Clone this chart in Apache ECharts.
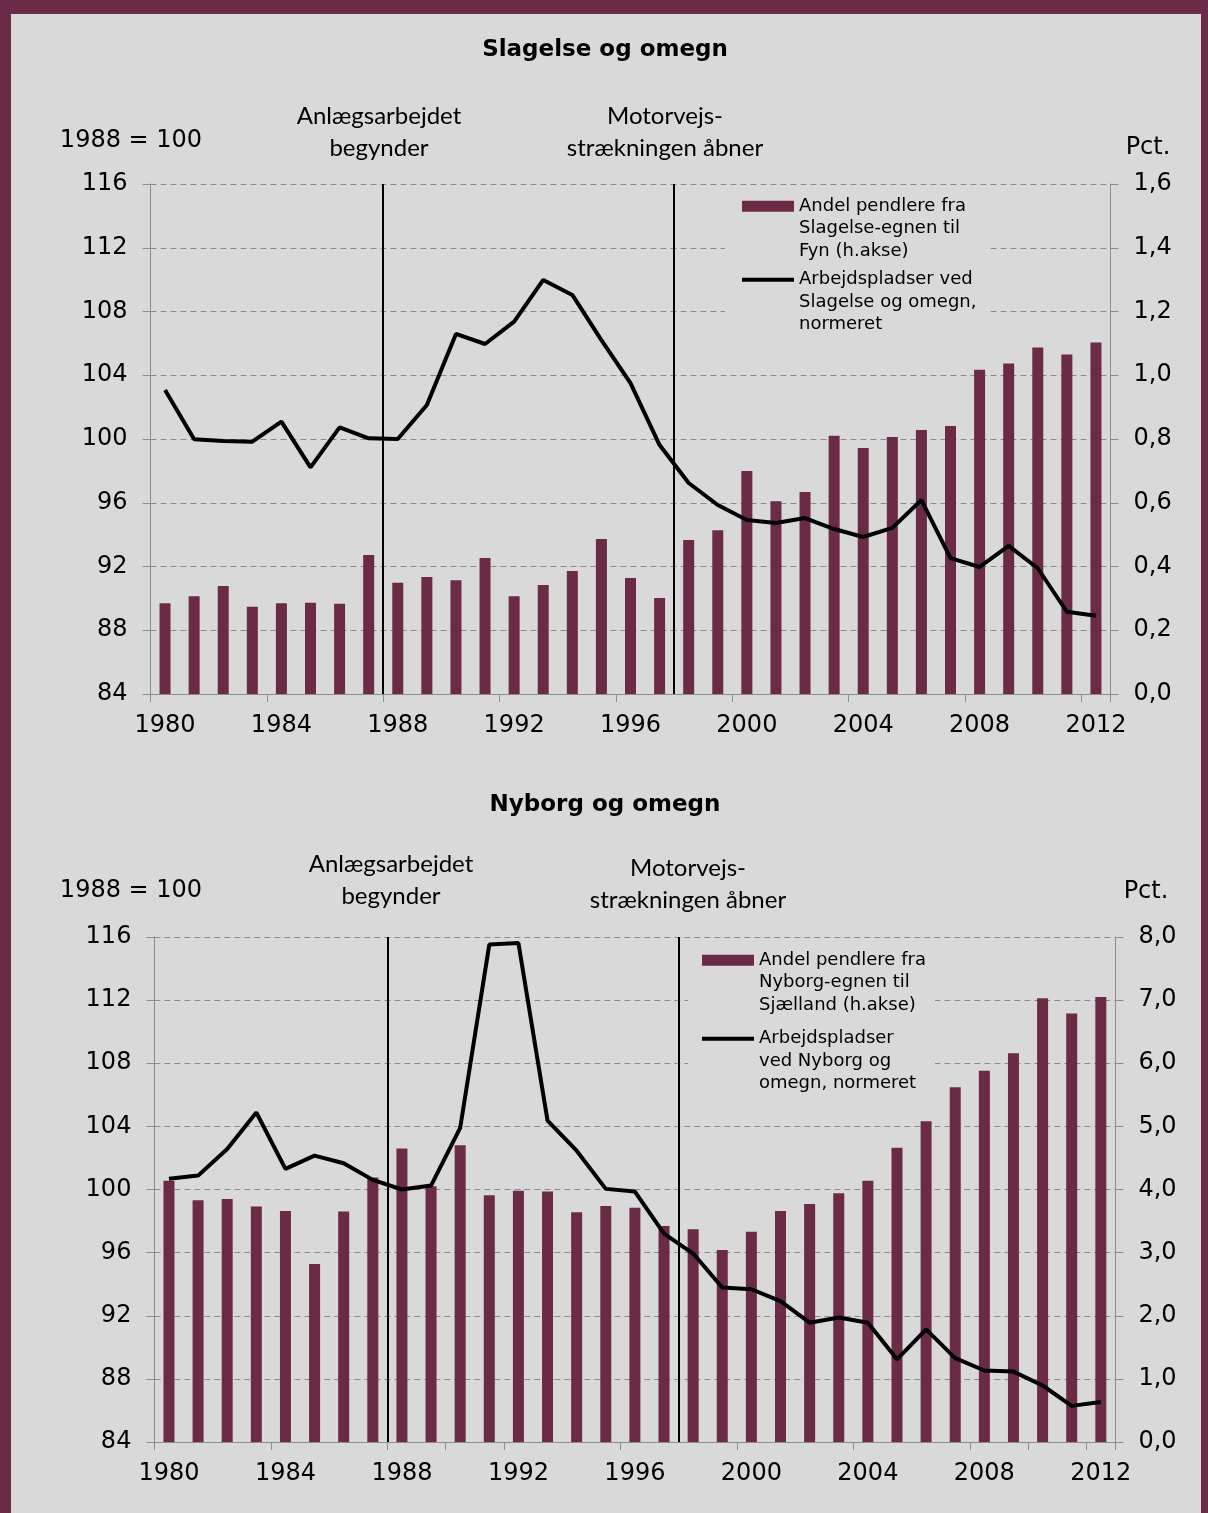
<!DOCTYPE html>
<html>
<head>
<meta charset="utf-8">
<script src="https://cdn.jsdelivr.net/npm/echarts@6/dist/echarts.min.js"></script>
<style>
  html, body { margin: 0; padding: 0; background: #d9d9d9; }
  #chart { position: absolute; left: 0; top: 0; width: 1208px; height: 1513px; }
  #frame {
    position: absolute; left: 0; top: 0; width: 1208px; height: 1513px;
    box-sizing: border-box; pointer-events: none;
    border-top: 14px solid #6b2b47; border-left: 11px solid #6b2b47; border-right: 7px solid #6b2b47;
  }
</style>
</head>
<body>
<div id="chart"></div>
<div id="frame"></div>
<script>
// data
var years = ['1980', '1981', '1982', '1983', '1984', '1985', '1986', '1987', '1988', '1989', '1990',
  '1991', '1992', '1993', '1994', '1995', '1996', '1997', '1998', '1999', '2000', '2001', '2002',
  '2003', '2004', '2005', '2006', '2007', '2008', '2009', '2010', '2011', '2012']
// pct. (right axis)
var slagelseShare = [0.285, 0.307, 0.339, 0.274, 0.285, 0.286, 0.283, 0.436, 0.349, 0.367, 0.357,
  0.427, 0.307, 0.342, 0.386, 0.486, 0.364, 0.301, 0.483, 0.514, 0.70, 0.605, 0.634,
  0.81, 0.772, 0.806, 0.828, 0.841, 1.017, 1.037, 1.087, 1.065, 1.103]
// 1988 = 100 (left axis)
var slagelseJobs = [103.08, 99.98, 99.87, 99.83, 101.09, 98.22, 100.73, 100.04, 100.0, 102.13, 106.59,
  105.96, 107.36, 109.98, 109.04, 106.2, 103.5, 99.62, 97.24, 95.86, 94.92, 94.73, 95.04,
  94.35, 93.85, 94.42, 96.17, 92.53, 91.97, 93.29, 91.89, 89.16, 88.91]
var nyborgShare = [4.14, 3.83, 3.85, 3.73, 3.66, 2.82, 3.65, 4.19, 4.65, 4.05, 4.70,
  3.91, 3.98, 3.97, 3.64, 3.74, 3.71, 3.42, 3.37, 3.04, 3.33, 3.66, 3.77,
  3.94, 4.14, 4.66, 5.08, 5.62, 5.88, 6.16, 7.03, 6.79, 7.05]
var nyborgJobs = [100.68, 100.88, 102.57, 104.88, 101.31, 102.15, 101.66, 100.61, 100.0, 100.25, 103.9,
  115.52, 115.62, 104.36, 102.46, 100.04, 99.87, 97.2, 95.94, 93.79, 93.68, 92.93, 91.56,
  91.89, 91.56, 89.24, 91.14, 89.31, 88.53, 88.46, 87.58, 86.29, 86.53]
// the event lines sit between two years
var constructionStart = 1987.5
var motorwayOpens = 1997.5
var tickYears2 = ['1980', '1984', '1988', '1990', '1992', '1996', '2000', '2004', '2008', '2010', '2012']

var names = {
  bar1: 'Andel pendlere fra\nSlagelse-egnen til\nFyn (h.akse)',
  line1: 'Arbejdspladser ved\nSlagelse og omegn,\nnormeret',
  bar2: 'Andel pendlere fra\nNyborg-egnen til\nSjælland (h.akse)',
  line2: 'Arbejdspladser\nved Nyborg og\nomegn, normeret'
}

var maroon = '#6b2b47'
var gray = '#8c8c8c'
var font = 'DejaVu Sans'
var noteFont = 'Lato'

function pairs (vals) {
  return vals.map(function (v, i) { return [Number(years[i]), v] })
}
function comma (v) { return v.toFixed(1).replace('.', ',') }

function catAxis (grid, tickInterval) {
  return {
    gridIndex: grid,
    type: 'category',
    data: years,
    boundaryGap: true,
    axisLine: { show: true, lineStyle: { color: gray, width: 1 } },
    axisTick: { show: true, interval: tickInterval, length: 8, lineStyle: { color: gray } },
    axisLabel: { interval: 3, margin: 20, color: '#000', fontSize: 24, fontFamily: font },
    splitLine: { show: false }
  }
}
function hiddenAxis (grid) {
  return { gridIndex: grid, type: 'value', min: 1979.5, max: 2012.5, show: false }
}
function leftAxis (grid) {
  return {
    gridIndex: grid, type: 'value', position: 'left', min: 84, max: 116, interval: 4,
    axisLine: { show: true, lineStyle: { color: gray } },
    axisTick: { show: true, length: 8, lineStyle: { color: gray } },
    axisLabel: { margin: 23, color: '#000', fontSize: 24, fontFamily: font },
    splitLine: { show: true, lineStyle: { color: gray, width: 1, type: [6, 4] } }
  }
}
function rightAxis (grid, max, step) {
  return {
    gridIndex: grid, type: 'value', position: 'right', min: 0, max: max, interval: step,
    axisLine: { show: true, lineStyle: { color: gray } },
    axisTick: { show: true, length: 8, lineStyle: { color: gray } },
    axisLabel: { margin: 23, color: '#000', fontSize: 24, fontFamily: font, formatter: comma },
    splitLine: { show: false }
  }
}
function eventLines () {
  return {
    silent: true,
    symbol: 'none',
    label: { show: false },
    lineStyle: { color: '#000', width: 2, type: 'solid' },
    data: [{ xAxis: constructionStart }, { xAxis: motorwayOpens }]
  }
}

// icons drawn in a 52 x 67.5 box so they line up with the first text line
var barIcon = 'path://M0,0h0.1v0.1h-0.1z M0,5.75h52v11h-52z M0,67.4h0.1v0.1h-0.1z'
var lineIcon = 'path://M0,0h0.1v0.1h-0.1z M0,9.25h52v4h-52z M0,67.4h0.1v0.1h-0.1z'

function legend (barName, lineName, left, top, pad, gap) {
  return {
    orient: 'vertical',
    left: left,
    top: top,
    padding: pad,
    itemGap: gap,
    itemWidth: 52,
    itemHeight: 67.5,
    selectedMode: false,
    backgroundColor: '#d9d9d9',
    itemStyle: { borderWidth: 0 },
    textStyle: { fontSize: 18, lineHeight: 22.5, fontFamily: font, color: '#000' },
    data: [{ name: barName, icon: barIcon }, { name: lineName, icon: lineIcon }]
  }
}

function txt (x, y, s, size, weight, fam, lh) {
  return {
    type: 'text', x: x, y: y,
    style: {
      text: s, x: 0, y: 0, align: 'center', verticalAlign: 'middle',
      font: (weight || 'normal') + ' ' + size + 'px "' + fam + '"',
      lineHeight: lh || size, fill: '#000'
    }
  }
}

var chart = echarts.init(document.getElementById('chart'), null, { renderer: 'canvas' })

var option = {
  backgroundColor: 'transparent',
  animation: false,
  grid: [
    { left: 150.5, right: 97.5, top: 184, bottom: 819, outerBoundsMode: 'none' },
    { left: 154.4, right: 92.6, top: 937, bottom: 71, outerBoundsMode: 'none' }
  ],
  xAxis: [
    catAxis(0, 3),
    hiddenAxis(0),
    catAxis(1, function (i, v) { return tickYears2.indexOf(v) >= 0 }),
    hiddenAxis(1)
  ],
  yAxis: [
    leftAxis(0),
    rightAxis(0, 1.6, 0.2),
    leftAxis(1),
    rightAxis(1, 8, 1)
  ],
  legend: [
    legend(names.bar1, names.line1, 725, 190, [5, 10, 5, 17], 6),
    legend(names.bar2, names.line2, 688, 944, [5, 9, 5, 14], 11)
  ],
  series: [
    {
      type: 'bar', name: names.bar1, xAxisIndex: 0, yAxisIndex: 1,
      data: slagelseShare, barWidth: 11,
      itemStyle: { color: maroon }
    },
    {
      type: 'line', name: names.line1, xAxisIndex: 1, yAxisIndex: 0,
      data: pairs(slagelseJobs), symbol: 'none', z: 3,
      lineStyle: { color: '#000', width: 4 }, itemStyle: { color: '#000' },
      markLine: eventLines()
    },
    {
      type: 'bar', name: names.bar2, xAxisIndex: 2, yAxisIndex: 3,
      data: nyborgShare, barWidth: 11,
      itemStyle: { color: maroon }
    },
    {
      type: 'line', name: names.line2, xAxisIndex: 3, yAxisIndex: 2,
      data: pairs(nyborgJobs), symbol: 'none', z: 3,
      lineStyle: { color: '#000', width: 4 }, itemStyle: { color: '#000' },
      markLine: eventLines()
    }
  ],
  graphic: [
    txt(605, 50, 'Slagelse og omegn', 23, 'bold', font),
    txt(379, 132, 'Anlægsarbejdet\nbegynder', 24, 'normal', noteFont, 32),
    txt(665, 132, 'Motorvejs-\nstrækningen åbner', 24, 'normal', noteFont, 32),
    txt(131, 141, '1988 = 100', 24, 'normal', font),
    txt(1148, 148, 'Pct.', 24, 'normal', font),
    txt(605, 805, 'Nyborg og omegn', 23, 'bold', font),
    txt(391, 880, 'Anlægsarbejdet\nbegynder', 24, 'normal', noteFont, 32),
    txt(688, 884, 'Motorvejs-\nstrækningen åbner', 24, 'normal', noteFont, 32),
    txt(131, 891, '1988 = 100', 24, 'normal', font),
    txt(1146, 892, 'Pct.', 24, 'normal', font)
  ]
}

chart.setOption(option)
</script>
</body>
</html>
